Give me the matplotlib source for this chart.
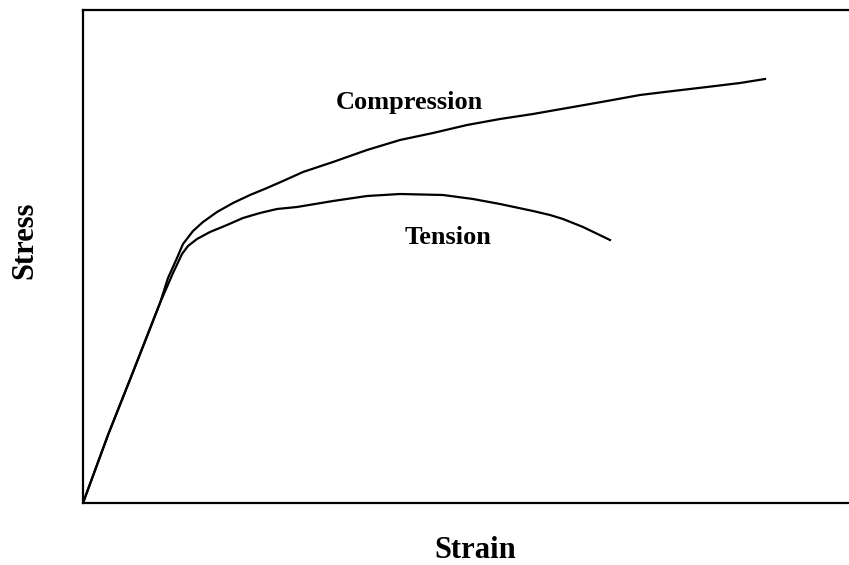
import matplotlib
matplotlib.use("Agg")
import matplotlib.pyplot as plt
from matplotlib import rcParams

rcParams['font.family'] = 'Liberation Serif'
rcParams['font.weight'] = 'bold'

# stress-strain curves, arbitrary units
comp_strain = [0, 25, 50, 77, 85, 94, 100, 110, 120, 134, 150, 167, 184, 200, 220,
               250, 284, 317, 350, 384, 417, 450, 467, 490, 524, 557, 590, 624, 657, 682]
comp_stress = [0, 68, 131, 200, 225, 245, 259, 272, 281, 291, 300, 308, 315, 322, 331,
               341, 353, 363, 370, 378, 384, 389, 392, 396, 402, 408, 412, 416, 420, 424]

tens_strain = [0, 25, 50, 77, 90, 99, 105, 114, 127, 144, 160, 177, 194, 214, 220,
               250, 284, 317, 360, 390, 417, 450, 467, 480, 500, 527]
tens_stress = [0, 68, 131, 200, 230, 249, 257, 264, 271, 278, 285, 290, 294, 296, 297,
               302, 307, 309, 308, 304, 299, 292, 288, 284, 276, 263]

fig = plt.figure(figsize=(8.49, 5.65), dpi=100)
ax = fig.add_axes([83/849, 62/565, 766/849, 493/565])

ax.plot(comp_strain, comp_stress, color='black', lw=1.6, solid_joinstyle='round')
ax.plot(tens_strain, tens_stress, color='black', lw=1.6, solid_joinstyle='round')

ax.text(326, 401, 'Compression', fontsize=19, fontweight='bold', ha='center', va='center')
ax.text(365, 265, 'Tension', fontsize=19, fontweight='bold', ha='center', va='center')

ax.set_xlim(0, 766)
ax.set_ylim(0, 493)
ax.set_xticks([])
ax.set_yticks([])
ax.spines['right'].set_visible(False)
for s in ['left', 'top', 'bottom']:
    ax.spines[s].set_linewidth(1.6)

fig.text(475/849, 1 - 551/565, 'Strain', fontsize=22, fontweight='bold', ha='center', va='center')
fig.text(25/849, 1 - 240/565, 'Stress', fontsize=22, fontweight='bold', ha='center', va='center',
         rotation=90)

plt.savefig('out.png', dpi=100)
